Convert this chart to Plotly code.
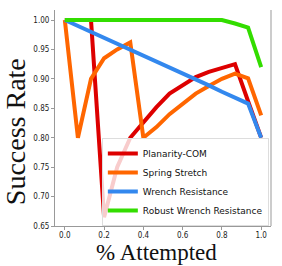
import plotly.graph_objects as go

attempted = [0.0, 1/15, 2/15, 3/15, 4/15, 5/15, 6/15, 7/15, 8/15, 9/15, 10/15, 11/15, 12/15, 13/15, 14/15, 1.0]

planarity_com = [1.0, 1.0, 1.0, 0.665, 0.75, 0.80, 0.826, 0.852, 0.875, 0.89, 0.903, 0.912, 0.919, 0.925, 0.862, 0.80]
spring_stretch = [1.0, 0.80, 0.90, 0.935, 0.95, 0.962, 0.80, 0.818, 0.84, 0.858, 0.875, 0.888, 0.90, 0.909, 0.901, 0.838]
wrench_resistance = [1.0, 0.990, 0.980, 0.970, 0.960, 0.950, 0.939, 0.929, 0.919, 0.909, 0.899, 0.889, 0.878, 0.868, 0.858, 0.80]
robust_wrench = [1.0, 1.0, 1.0, 1.0, 1.0, 1.0, 1.0, 1.0, 1.0, 1.0, 1.0, 1.0, 1.0, 0.994, 0.987, 0.92]

series_names = ["Planarity-COM", "Spring Stretch", "Wrench Resistance", "Robust Wrench Resistance"]
series_values = [planarity_com, spring_stretch, wrench_resistance, robust_wrench]
series_colors = ["#dd0000", "#ff6600", "#3388ee", "#33dd00"]

x_ticks = [0.0, 0.2, 0.4, 0.6, 0.8, 1.0]
y_ticks = [0.65, 0.70, 0.75, 0.80, 0.85, 0.90, 0.95, 1.00]

fig = go.Figure()
for name, vals, col in zip(series_names, series_values, series_colors):
    fig.add_trace(go.Scatter(x=attempted, y=vals, mode="lines", name=name,
                             line=dict(color=col, width=4)))

tick_font = dict(family="DejaVu Sans Condensed, DejaVu Sans", size=8, color="#222")
fig.update_layout(
    width=282, height=266,
    margin=dict(l=55, r=11, t=10, b=40),
    paper_bgcolor="white", plot_bgcolor="white",
    xaxis=dict(range=[-0.05, 1.05], tickvals=x_ticks, tickformat=".1f",
               showgrid=False, zeroline=False, showline=True, linecolor="#999", linewidth=1,
               ticks="outside", ticklen=3, tickcolor="#999", tickfont=tick_font,
               ticklabelstandoff=-2),
    yaxis=dict(range=[0.65, 1.017], tickvals=y_ticks, tickformat=".2f",
               showgrid=False, zeroline=False, showline=True, linecolor="#999", linewidth=1,
               ticks="outside", ticklen=3, tickcolor="#999", tickfont=tick_font),
    legend=dict(x=0.99, xanchor="right", y=0.0, yanchor="bottom",
                font=dict(family="DejaVu Sans", size=9, color="#111"),
                bordercolor="#dddddd", borderwidth=1, bgcolor="rgba(255,255,255,0.8)",
                tracegroupgap=0),
    showlegend=True,
)
fig.add_shape(type="line", xref="paper", yref="paper", x0=1, x1=1, y0=0, y1=1,
              line=dict(color="#999", width=1))
fig.add_annotation(text="% Attempted", xref="paper", yref="paper", x=0.4676, y=-0.122,
                   xanchor="center", yanchor="middle", showarrow=False,
                   font=dict(family="Liberation Serif", size=23, color="#111"))
fig.add_annotation(text="Success Rate", xref="paper", yref="paper", x=-0.182, y=0.4375,
                   xanchor="center", yanchor="middle", showarrow=False, textangle=-90,
                   font=dict(family="Liberation Serif", size=28, color="#111"))

fig.write_html("out.html", config={"displayModeBar": False},
               post_script="document.body.style.margin='0';document.body.style.overflow='hidden';")
